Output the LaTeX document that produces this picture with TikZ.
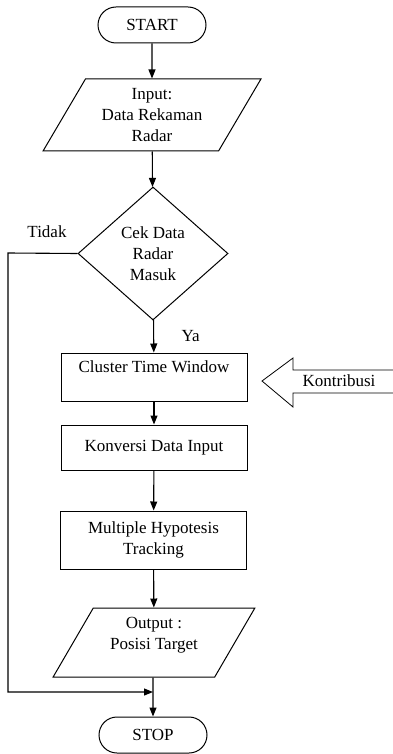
\documentclass[tikz,border=0pt]{standalone}
\usepackage{fontspec}
\setmainfont{Liberation Serif}
\usetikzlibrary{shapes.geometric, shapes.misc, arrows.meta, positioning}

\begin{document}
\begin{tikzpicture}[
  x=1pt, y=-1pt,
  every node/.style={font=\fontsize{17}{21}\selectfont, align=center},
  terminal/.style={rounded rectangle, draw, line width=1pt, minimum width=108pt, minimum height=36pt, inner sep=0pt},
  io/.style={trapezium, trapezium left angle=59, trapezium right angle=121, trapezium stretches=true, draw, line width=1pt, inner sep=0pt},
  decision/.style={diamond, draw, line width=1pt, minimum width=150pt, minimum height=133pt, inner sep=0pt},
  process/.style={rectangle, draw, line width=1pt, minimum width=186pt, inner sep=0pt},
  arrow/.style={-{Triangle[length=9pt, width=7pt]}, line width=1.1pt},
  blockarrow/.style={draw, line width=0.8pt, line join=miter}
]
\useasboundingbox (0,0) rectangle (392,754);

% Main column
\node[terminal] (start) at (152,25) {START};
\node[io, minimum width=218pt, minimum height=72pt] (input) at (152,115) {Input:\\Data Rekaman\\Radar};
\node[decision] (cek) at (153,253.5) {Cek Data\\Radar\\Masuk};
\node[process, minimum height=48pt, text height=12pt, text depth=21pt] (cluster) at (154,377) {Cluster Time Window};
\node[process, minimum height=45pt] (konversi) at (154,447.5) {Konversi Data Input};
\node[process, minimum height=58pt] (mht) at (153.5,540) {Multiple Hypotesis\\Tracking};
\node[io, trapezium left angle=60, trapezium right angle=120, minimum width=202pt, minimum height=69pt, text depth=18pt] (output) at (154,642.5) {Output :\\Posisi Target};
\node[terminal] (stop) at (153,735) {STOP};

% Side labels and points
\node (tidak) at (47,232) {Tidak};
\coordinate (leftrail) at (8,253);
\coordinate (join) at (153,692);

% Contribution marker
\node (kontribusi) at (339,381) {Kontribusi};
\draw[blockarrow] (262,381) -- (293,358) -- (293,370) -- (400,370) -- (400,393) -- (293,393) -- (293,407) -- cycle;

% Arrows
\draw[arrow] (start) -- (input);
\draw[arrow] (input) -- (cek);
\draw[arrow] (cek) -- node[right=24pt] {Ya} (cluster);
\draw[arrow] (cluster) -- (konversi);
\draw[arrow] (konversi) -- (mht);
\draw[arrow] (mht) -- (output);
\draw[arrow] (output.south -| stop.north) -- (stop);
\draw[arrow] (cek.west) -- (leftrail) |- (join);

\end{tikzpicture}
\end{document}
